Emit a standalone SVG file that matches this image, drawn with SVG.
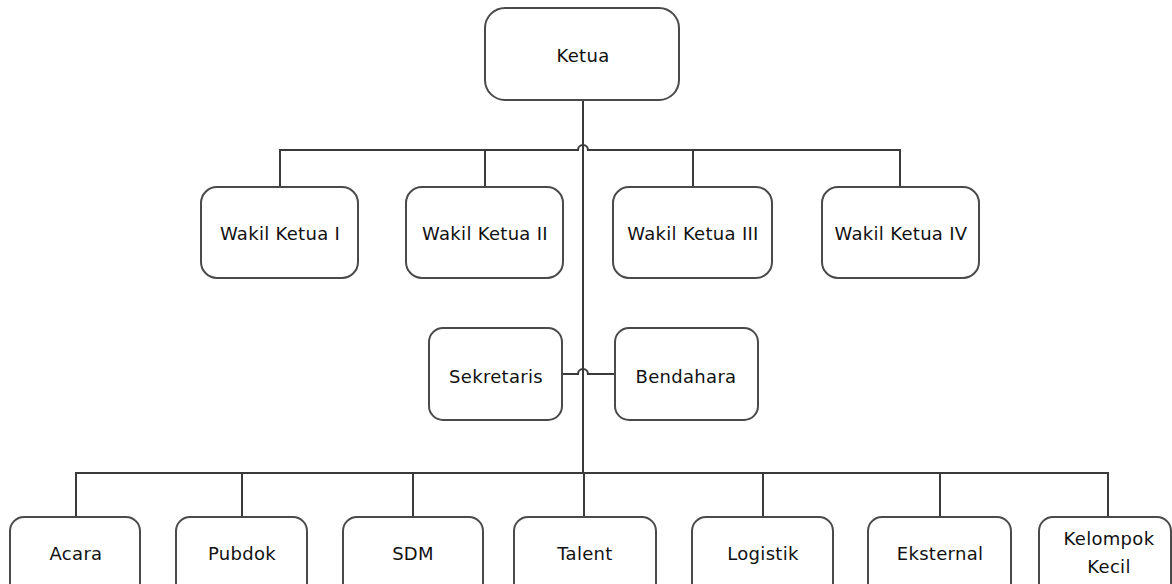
<svg xmlns="http://www.w3.org/2000/svg" width="1172" height="584" viewBox="0 0 1172 584">
<style>
.box{fill:#fff;stroke:#4a4a4a;stroke-width:2}
.ln{fill:none;stroke:#3a3a3a;stroke-width:2}
text{font-family:"DejaVu Sans",Verdana,sans-serif;font-size:18px;letter-spacing:0.3px;fill:#111;text-anchor:middle}
</style>
<rect width="1172" height="584" fill="#fff"/>
<g id="connectors">
<path class="ln" d="M583,100 V473"/>
<path class="ln" d="M280,187 V150 H578 A5,5 0 0 1 588,150 H900 V187"/>
<path class="ln" d="M485,150 V187"/>
<path class="ln" d="M693,150 V187"/>
<path class="ln" d="M562,374 H578 A5,5 0 0 1 588,374 H615"/>
<path class="ln" d="M76,517 V473 H1108 V517"/>
<path class="ln" d="M242,473 V517"/>
<path class="ln" d="M413,473 V517"/>
<path class="ln" d="M584,473 V517"/>
<path class="ln" d="M763,473 V517"/>
<path class="ln" d="M940,473 V517"/>
</g>
<g id="ketua"><rect class="box" x="485" y="8" width="194" height="92" rx="20"/><text x="583" y="62">Ketua</text></g>
<g id="wakil1"><rect class="box" x="201" y="187" width="157" height="91" rx="16"/><text x="280" y="240">Wakil Ketua I</text></g>
<g id="wakil2"><rect class="box" x="406" y="187" width="157" height="91" rx="16"/><text x="485" y="240">Wakil Ketua II</text></g>
<g id="wakil3"><rect class="box" x="613" y="187" width="159" height="91" rx="16"/><text x="693" y="240">Wakil Ketua III</text></g>
<g id="wakil4"><rect class="box" x="822" y="187" width="157" height="91" rx="16"/><text x="901" y="240">Wakil Ketua IV</text></g>
<g id="sekretaris"><rect class="box" x="429" y="328" width="133" height="92" rx="14"/><text x="496" y="383">Sekretaris</text></g>
<g id="bendahara"><rect class="box" x="615" y="328" width="143" height="92" rx="14"/><text x="686" y="383">Bendahara</text></g>
<g id="acara"><rect class="box" x="10" y="517" width="130" height="90" rx="14"/><text x="76" y="560">Acara</text></g>
<g id="pubdok"><rect class="box" x="176" y="517" width="131" height="90" rx="14"/><text x="242" y="560">Pubdok</text></g>
<g id="sdm"><rect class="box" x="343" y="517" width="140" height="90" rx="14"/><text x="413" y="560">SDM</text></g>
<g id="talent"><rect class="box" x="514" y="517" width="142" height="90" rx="14"/><text x="585" y="560">Talent</text></g>
<g id="logistik"><rect class="box" x="692" y="517" width="141" height="90" rx="14"/><text x="763" y="560">Logistik</text></g>
<g id="eksternal"><rect class="box" x="868" y="517" width="143" height="90" rx="14"/><text x="940" y="560">Eksternal</text></g>
<g id="kelompok"><rect class="box" x="1039" y="517" width="132" height="90" rx="14"/><text x="1109" y="545">Kelompok</text><text x="1109" y="573">Kecil</text></g>
</svg>
